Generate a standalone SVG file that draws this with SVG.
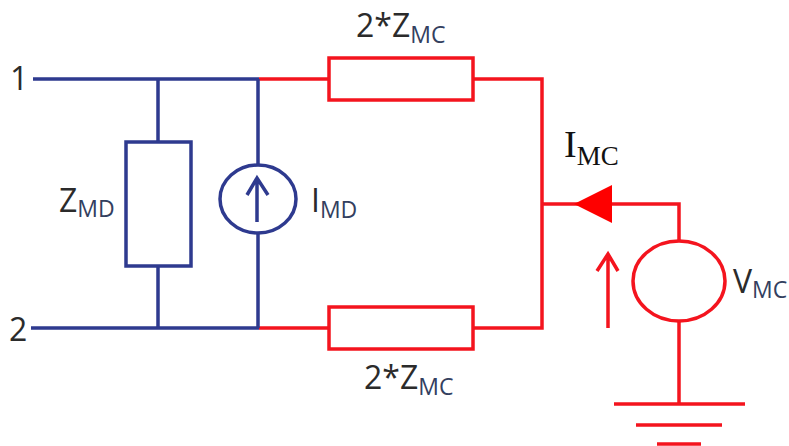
<svg xmlns="http://www.w3.org/2000/svg" width="789" height="446" viewBox="0 0 789 446">
<style>
.b{fill:none;stroke:#2e3a8f;stroke-width:3.5}
.r{fill:none;stroke:#f4141e;stroke-width:3.5}
text{font-family:"Open Sans","Liberation Sans",sans-serif;fill:#2b2b2b;font-size:32px}
.s{font-size:23px;fill:#33405f}
.m{font-family:"Liberation Serif","DejaVu Serif",serif;fill:#111;font-size:38px}
.ms{font-size:27px;fill:#111}
</style>
<rect width="789" height="446" fill="#fff"/>
<g id="connectors">
<path class="r" d="M259 79H329M473 79H542V328H473M259 328H329M542 204H679V241M679 321V403"/>
<path class="b" d="M33 79H259M31 328H259M158 79V142M158 266V328M258 79V166M258 233V328"/>
<path class="r" d="M608 328V254M597 271L608 254L618 271" stroke-width="3"/>
<polygon points="574,204 612,185 612,223" fill="#fe0000"/>
</g>
<g id="port-1"><text x="10" y="90">1</text></g>
<g id="port-2"><text x="9" y="341">2</text></g>
<g id="z-md"><rect class="b" x="126" y="142" width="65" height="124"/><text x="59" y="212">Z<tspan class="s" dy="5">MD</tspan></text></g>
<g id="i-md"><ellipse class="b" cx="258" cy="199" rx="38" ry="34"/><path class="b" d="M257 222V178M247 195L257 178L268 195"/><text x="311" y="212">I<tspan class="s" dy="6">MD</tspan></text></g>
<g id="z-mc-top"><rect class="r" x="329" y="58" width="144" height="42"/><text x="356" y="37">2*Z<tspan class="s" dy="6">MC</tspan></text></g>
<g id="z-mc-bottom"><rect class="r" x="329" y="307" width="144" height="42"/><text x="364" y="389">2*Z<tspan class="s" dy="6">MC</tspan></text></g>
<g id="i-mc"><text class="m" x="564" y="157">I<tspan class="ms" dy="8">MC</tspan></text></g>
<g id="v-mc"><ellipse class="r" cx="679" cy="281" rx="46" ry="40"/><text x="733" y="293">V<tspan class="s" dy="5">MC</tspan></text></g>
<g id="ground"><path class="r" d="M614 404H745M636 425H722" stroke-width="3"/><path class="r" d="M657 444H701"/></g>
</svg>
